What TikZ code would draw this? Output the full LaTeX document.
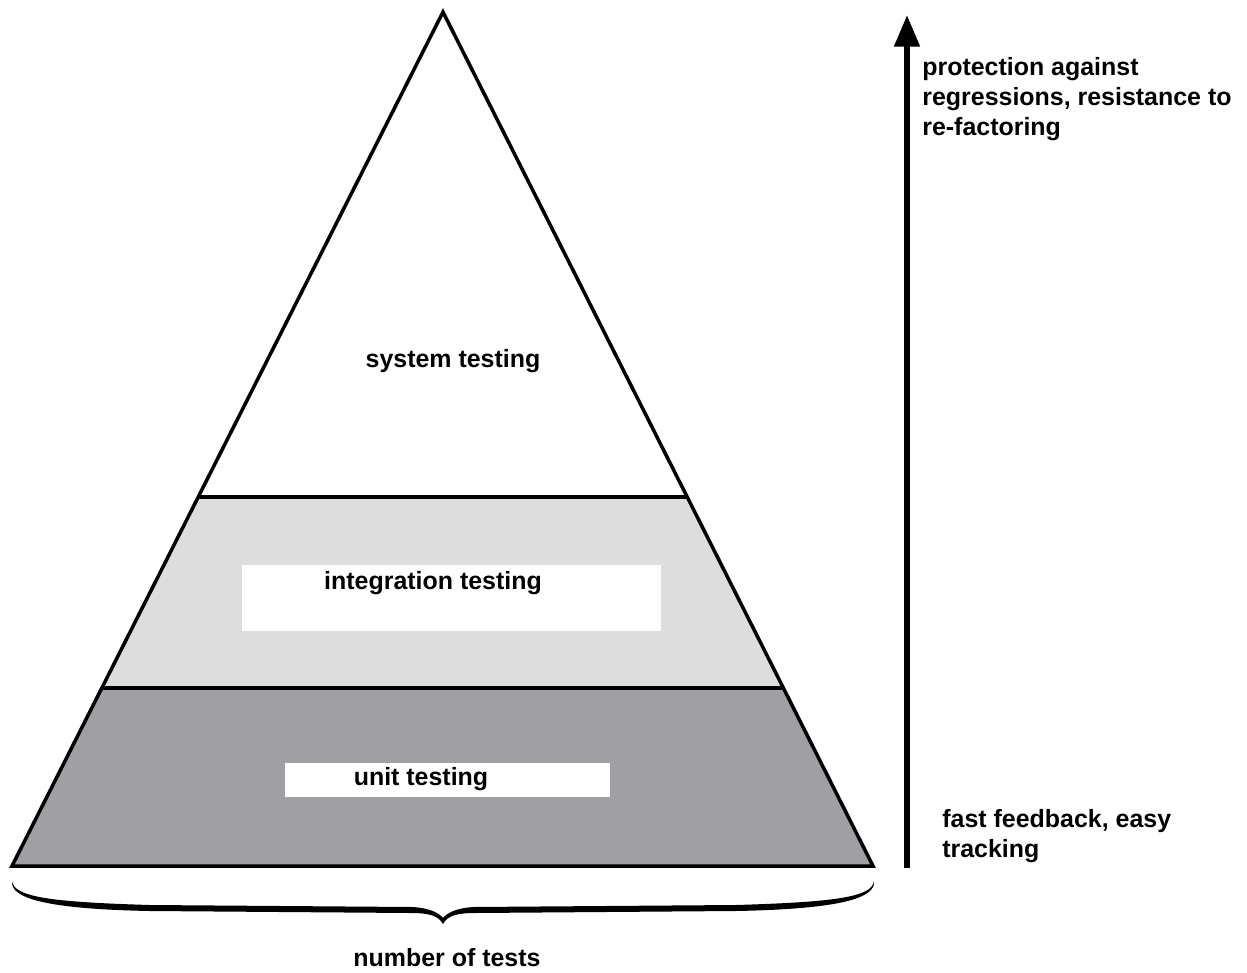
\documentclass[tikz,border=0pt]{standalone}
\usepackage{fontspec}
\setmainfont{Liberation Sans}
\usetikzlibrary{arrows.meta}
\begin{document}
\begin{tikzpicture}[x=0.02cm,y=-0.02cm,
  lbl/.style={inner sep=0pt,font=\bfseries\fontsize{14.2pt}{17pt}\selectfont},
  outline/.style={line width=2pt,line join=miter},
  labelbox/.style={fill=white,draw=none}]
\useasboundingbox (0,0) rectangle (1247,973);
% pyramid corners and band boundaries
\coordinate (apex) at (443,12);
\coordinate (bl) at (12,866);
\coordinate (br) at (873,866);
\coordinate (l1) at (198,497);
\coordinate (r1) at (687,497);
\coordinate (l2) at (102,688);
\coordinate (r2) at (783,688);
% bands
\fill[fill=white] (apex) -- (l1) -- (r1) -- cycle;
\fill[fill={rgb,255:red,221;green,221;blue,221}] (l1) -- (l2) -- (r2) -- (r1) -- cycle;
\fill[fill={rgb,255:red,160;green,159;blue,164}] (l2) -- (bl) -- (br) -- (r2) -- cycle;
% white label boxes
\fill[labelbox] (242,565) rectangle (661,631);
\fill[labelbox] (285,763) rectangle (610,797);
% outline and separators
\draw[outline] (apex) -- (bl) -- (br) -- cycle;
\draw[outline] (l1) -- (r1);
\draw[outline] (l2) -- (r2);
% layer labels
\node[lbl,anchor=base] (sys) at (453,367) {system testing};
\node[lbl,anchor=base] (integ) at (433,589) {integration testing};
\node[lbl,anchor=base] (unit) at (421,785) {unit testing};
% vertical arrow
\coordinate (abot) at (907,868);
\coordinate (atop) at (907,15);
\draw[line width=3.4pt,-{Triangle[length=18pt,width=14pt]}] (abot) -- (atop);
\node[lbl,anchor=north west,align=left] (prot) at (922,57)
  {protection against\\regressions, resistance to\\re-factoring};
\node[lbl,anchor=north west,align=left] (fast) at (942,809)
  {fast feedback, easy\\tracking};
% brace under the base, thin at the ends and thick in the middle
\fill (12,881) .. controls (14,897) and (50,902) .. (150,905) -- (412,907)
  .. controls (430,908) and (439,913) .. (443,918)
  .. controls (447,913) and (456,908) .. (474,907) -- (736,905)
  .. controls (836,902) and (872,897) .. (874,881)
  .. controls (876,898) and (841,909) .. (736,911) -- (476,913)
  .. controls (458,913) and (448,915) .. (443,924)
  .. controls (438,915) and (428,913) .. (410,913) -- (150,911)
  .. controls (45,909) and (10,898) .. (12,881) -- cycle;
\node[lbl,anchor=base] (count) at (447,966) {number of tests};
\end{tikzpicture}
\end{document}
